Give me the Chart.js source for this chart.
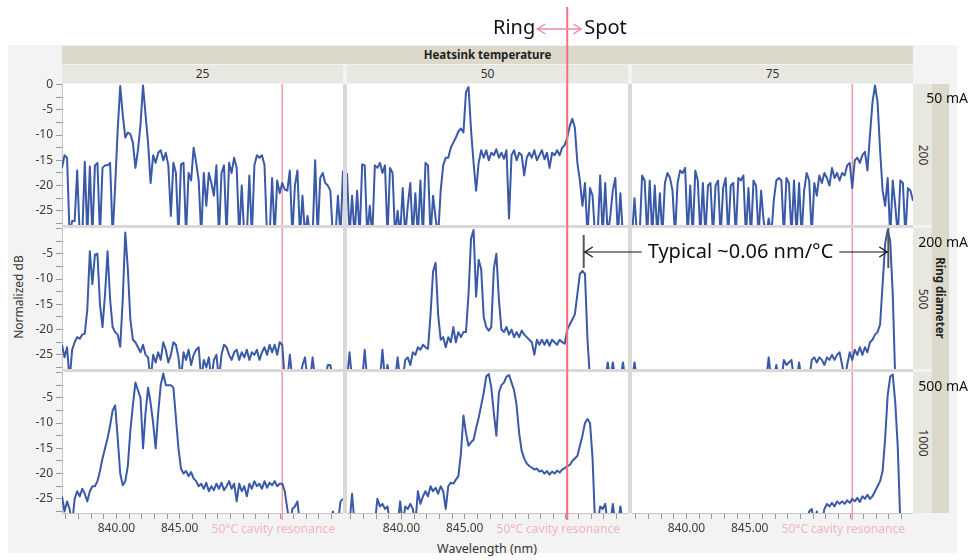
<!DOCTYPE html>
<html>
<head>
<meta charset="utf-8">
<script src="https://cdn.jsdelivr.net/npm/chart.js@4.4.1/dist/chart.umd.min.js"></script>
<style>
body { margin: 0; background: #fff; }
#wrap { position: relative; width: 969px; height: 560px; overflow: hidden; font-family: "Noto Sans", sans-serif; }
#wrap div { position: absolute; }
#bgpanel { left: 8px; top: 45px; width: 949px; height: 508px; background: #f3f3f3; }
#hdr { left: 62px; top: 46px; width: 851px; height: 18px; background: #dcd9cb; font-weight: bold; font-size: 11.5px; color: #222; text-align: center; line-height: 18px; }
.colhdr { top: 65px; height: 18px; width: 281px; background: #e8e7e0; font-size: 12px; color: #333; text-align: center; line-height: 18px; }
#grid { left: 62px; top: 84px; width: 851px; height: 429px; background: #d9d9d9; }
.rowlab { left: 913px; width: 19px; height: 141px; background: #e8e7e0; }
.rot { white-space: nowrap; transform: translate(-50%, -50%) rotate(90deg); }
#ringstrip { left: 932px; top: 84px; width: 17px; height: 429px; background: #dcd9cb; }
#ytitle { left: 18px; top: 297px; font-size: 12px; color: #333; white-space: nowrap; transform: translate(-50%, -50%) rotate(-90deg); }
#xtitle { left: 487px; top: 548px; font-size: 12.5px; color: #333; white-space: nowrap; transform: translate(-50%, -50%); }
canvas { position: absolute; }
</style>
</head>
<body>
<div id="wrap">
  <div id="bgpanel"></div>
  <div id="hdr">Heatsink temperature</div>
  <div id="grid"></div>
  <div id="ringstrip"><div class="rot" style="left:8px; top:214px; font-weight:bold; font-size:11.5px; color:#222;">Ring diameter</div></div>
  <div id="ytitle">Normalized dB</div>
  <div id="xtitle">Wavelength (nm)</div>
</div>
<script>
// wavelength grid (nm), shared by all panels
var wavelengths = [
  835.7, 835.9, 836.1, 836.3, 836.5, 836.7, 836.9, 837.1, 837.3, 837.5,
  837.7, 837.9, 838.1, 838.3, 838.5, 838.7, 838.9, 839.1, 839.3, 839.5,
  839.7, 839.9, 840.1, 840.3, 840.5, 840.7, 840.9, 841.1, 841.3, 841.5,
  841.7, 841.9, 842.1, 842.3, 842.5, 842.7, 842.9, 843.1, 843.3, 843.5,
  843.7, 843.9, 844.1, 844.3, 844.5, 844.7, 844.9, 845.1, 845.3, 845.5,
  845.7, 845.9, 846.1, 846.3, 846.5, 846.7, 846.9, 847.1, 847.3, 847.5,
  847.7, 847.9, 848.1, 848.3, 848.5, 848.7, 848.9, 849.1, 849.3, 849.5,
  849.7, 849.9, 850.1, 850.3, 850.5, 850.7, 850.9, 851.1, 851.3, 851.5,
  851.7, 851.9, 852.1, 852.3, 852.5, 852.7, 852.9, 853.1, 853.3, 853.5,
  853.7, 853.9, 854.1, 854.3, 854.5, 854.7, 854.9, 855.1, 855.3, 855.5,
  855.7, 855.9, 856.1, 856.3, 856.5, 856.7, 856.9, 857.1, 857.3, 857.5,
  857.7, 857.9
];

var temps = ['25', '50', '75'];
var diameters = ['200', '500', '1000'];
var currents = ['50 mA', '200 mA', '500 mA'];
var xLabels = [840, 845];
var cavityLine = 853.1;
var cavityText = '50°C cavity resonance';
var peak50 = 854.4, peak75 = 855.95;

// normalized dB, -30 = below the plotted floor
var s25_200 = [
  -16.5,-14,-14.5,-30,-27,-27,-17,-30,-30,-15.3,
  -30,-16.2,-30,-16,-15.5,-30,-16.5,-16,-16,-15.5,
  -30,-20,-9,-0.3,-6,-10.5,-9.5,-9.8,-11.5,-16.5,
  -13,-8,-0.2,-6,-11.5,-19.5,-14,-15.5,-13.5,-13,
  -15,-13.5,-16,-26,-15.5,-17.5,-30,-15.8,-15.5,-30,
  -17.5,-19,-12.5,-15.5,-19,-30,-17.5,-24,-17.5,-19.5,
  -22,-16,-30,-17.5,-16,-30,-15.5,-17.5,-14.5,-16.5,
  -30,-20,-30,-30,-18,-30,-16,-14,-14.5,-14,
  -16,-30,-30,-18.5,-30,-19,-21.5,-19.5,-20.8,-21,
  -17,-30,-20,-17,-30,-22,-30,-26,-30,-30,
  -15,-30,-18.5,-17.5,-19.5,-20,-21,-30,-30,-22,
  -30,-17
];
var s50_200 = [
  -17.5,-30,-22,-30,-21,-30,-15.8,-16,-30,-24,
  -30,-16,-16.5,-15.5,-17.5,-16,-30,-16.5,-17.5,-30,
  -25,-30,-20.5,-30,-24,-19.5,-30,-21.5,-30,-19,
  -30,-15.5,-16,-30,-22,-26.5,-30,-21,-16,-14.5,
  -14.5,-12.5,-11.5,-10.5,-9.3,-8.7,-9.5,-1.5,-0.5,-9,
  -15.5,-21,-15.5,-13,-14.5,-13,-15,-13.5,-14,-12.8,
  -14.5,-13.5,-14.7,-13,-26.5,-14,-13,-15,-13.5,-14,
  -18,-14.5,-13.5,-14.5,-13,-15,-14,-13,-14.8,-13.5,
  -16.5,-13.5,-14,-13,-14,-12.5,-12,-10.5,-8.2,-6.8,
  -8.5,-15.5,-19,-24,-19.5,-30,-20.5,-22,-30,-30,
  -18,-30,-19.5,-30,-26,-21,-18.5,-30,-21.5,-30,
  -28,-30
];
var s75_200 = [
  -30,-22.5,-30,-30,-18,-19,-30,-19,-30,-20,
  -30,-21.5,-30,-19.5,-17.5,-18.5,-21,-30,-19.5,-17,
  -17.5,-16.5,-30,-20,-30,-17,-19,-30,-19.5,-30,
  -20,-19.5,-30,-20,-19,-30,-20.5,-18.5,-30,-20,
  -19.5,-30,-18.5,-19,-18,-30,-20.5,-30,-19,-20,
  -30,-21,-27,-30,-26.5,-30,-23,-19,-18.5,-19,
  -30,-18.5,-19.5,-30,-19,-30,-19.5,-30,-21,-17.5,
  -19,-30,-19.5,-22,-18,-19.5,-17.5,-18.5,-20,-16.5,
  -18.5,-17.5,-19,-17.5,-18,-16,-15.5,-20.5,-15,-14.5,
  -15.5,-14,-13.3,-17,-10,-3.5,-0.2,-3.5,-13,-21,
  -24,-18.5,-30,-19,-24,-30,-19,-19.5,-30,-20.5,
  -21,-23
];
var s25_500 = [
  -23,-25.5,-23.5,-30,-24,-22.5,-21.5,-21.8,-21,-20.8,
  -16,-4.5,-11,-5.2,-5,-15,-19.5,-13,-4.5,-14,
  -19.5,-20.5,-21,-23.4,-14,-0.8,-8,-18,-22,-22.5,
  -23.5,-24.5,-23,-25,-25.5,-30,-25,-26.5,-24.5,-26,
  -22.5,-24,-26.5,-25,-22.5,-23,-25.5,-30,-24.5,-26,
  -24,-27,-25,-24,-23.5,-30,-26,-27.5,-25.5,-30,
  -26,-25,-30,-25,-23,-23.5,-25,-26,-24.5,-24,
  -26,-24.5,-25.5,-24,-26,-24.5,-25,-24,-26,-24.5,
  -23.5,-25,-23,-24.5,-23,-25,-22.5,-23,-30,-30,
  -25,-30,-30,-30,-30,-27,-25.5,-30,-30,-25.5,
  -30,-30,-30,-30,-30,-27,-27,-30,-30,-30,
  -30,-30
];
var s50_500 = [
  -30,-24.5,-30,-30,-30,-30,-30,-24,-30,-30,
  -30,-30,-30,-30,-24,-30,-27,-30,-30,-30,
  -25.5,-30,-30,-26,-25.5,-27,-24.5,-25,-23.5,-24,
  -23,-23.5,-23.8,-17,-8.5,-6.8,-17,-22,-21.5,-23.5,
  -21.5,-22.5,-19.5,-22.5,-20.5,-21.5,-20.5,-20.5,-13,-2,
  -0.3,-13.5,-6.2,-8,-17.5,-19.5,-20.2,-19.5,-8,-5,
  -14,-20,-20.5,-19.5,-21,-20,-21.5,-20.5,-21.5,-20.2,
  -21,-21.5,-22,-22.5,-25,-22,-23,-22,-23,-22,
  -23.2,-22,-22.5,-23,-22,-22.5,-22.8,-20,-19,-18,
  -17,-13,-9,-8.4,-9,-22,-30,-30,-30,-30,
  -30,-30,-30,-26.5,-30,-26.5,-30,-30,-30,-26.5,
  -30,-30
];
var s75_500 = [
  -30,-26.5,-30,-30,-30,-30,-30,-30,-30,-30,
  -30,-30,-30,-30,-30,-30,-30,-30,-30,-30,
  -30,-30,-30,-30,-30,-30,-30,-30,-30,-30,
  -30,-30,-30,-30,-30,-30,-30,-30,-30,-30,
  -30,-30,-30,-30,-30,-30,-30,-30,-30,-30,
  -30,-30,-30,-30,-25.5,-30,-30,-27,-30,-30,
  -26,-27,-26.5,-26,-30,-30,-26.5,-30,-30,-30,
  -30,-26,-25.5,-26.5,-25.5,-26,-27,-25.5,-26,-25,
  -26,-25,-24.5,-27,-30,-27,-24.5,-26,-24,-25,
  -23.5,-25,-23.5,-24.5,-22.5,-22,-21,-20.5,-19,-11,
  -3,-0.3,-2.5,-13,-30,-30,-30,-30,-30,-30,
  -30,-30
];
var s25_1000 = [
  -24.5,-27.5,-25.5,-27,-30,-25,-23.5,-24.5,-23,-24,
  -25.5,-23.5,-22.5,-22.5,-21.5,-19.5,-17,-15,-13,-10.5,
  -7.5,-6.5,-13,-20,-22.3,-21.5,-18.5,-11.5,-6.5,-2,
  -3.5,-5,-15,-8,-3,-6,-10,-15,-8,-2.5,
  -0.2,-2.5,-2.5,-2.5,-3,-9,-15,-19,-20,-19.5,
  -20.5,-19.7,-21,-21.5,-22.5,-22,-23,-21.8,-23.5,-22.5,
  -23.3,-22,-23,-21.8,-23.3,-22.5,-21.5,-23,-22,-25.5,
  -22,-23.5,-22.5,-24.5,-22,-23,-21.5,-22.5,-22,-23,
  -21.5,-22.8,-21.8,-22.3,-21.5,-22.5,-22,-22,-23.5,-27,
  -30,-27,-26.5,-25.5,-30,-30,-30,-30,-30,-30,
  -30,-30,-30,-30,-30,-30,-30,-27.5,-30,-30,
  -25.5,-25
];
var s50_1000 = [
  -30,-30,-24,-30,-30,-30,-30,-30,-30,-30,
  -30,-30,-25,-26.5,-26,-27,-26.5,-30,-30,-30,
  -30,-25.5,-30,-26.5,-27,-26,-27,-30,-23.5,-26,
  -24.5,-23.5,-24.5,-22.5,-23.5,-22.8,-24,-22.5,-23.5,-27,
  -22.5,-21.8,-22,-21.2,-20.5,-16,-8.5,-12,-14.5,-13.8,
  -13.3,-11,-9,-6.5,-4,-0.8,-0.3,-3,-8,-12.5,
  -4,-2.5,-2,-0.8,-0.5,-2,-3.5,-6.5,-12,-15.5,
  -17,-18,-18.5,-18.8,-19.2,-19,-19.6,-19.4,-20,-19.5,
  -20.2,-19.6,-20,-19.4,-19.8,-19.2,-18.9,-18.5,-18.3,-17.5,
  -17,-16.5,-14.5,-12.5,-10,-9.2,-10,-17,-30,-30,
  -26.5,-27,-26,-30,-30,-26,-30,-30,-26.5,-30,
  -30,-30
];
var s75_1000 = [
  -30,-30,-30,-30,-30,-30,-30,-30,-30,-30,
  -30,-30,-30,-30,-30,-30,-30,-30,-30,-30,
  -30,-30,-30,-30,-30,-30,-30,-30,-30,-30,
  -30,-30,-30,-30,-30,-30,-30,-30,-30,-30,
  -30,-30,-30,-30,-30,-30,-30,-30,-30,-30,
  -30,-30,-30,-30,-30,-30,-30,-30,-30,-30,
  -30,-30,-30,-30,-30,-30,-30,-30,-30,-30,
  -27.5,-27,-30,-27.5,-30,-30,-27,-26,-26.5,-25.8,
  -26.5,-25.5,-26,-25.5,-26,-25.3,-25.8,-25,-25.5,-24.8,
  -25.6,-24.5,-25,-24.2,-25,-24.5,-23.5,-22.5,-21.5,-19.5,
  -13,-4.5,-0.8,-0.4,-6,-15,-30,-30,-30,-30,
  -30,-30
];

var spectra = [
  [s25_200, s50_200, s75_200],
  [s25_500, s50_500, s75_500],
  [s25_1000, s50_1000, s75_1000]
];

var xMin = 835.7, xMax = 857.9, yMin = -27.8, yMax = 0.1;
var colLeft = [62, 347, 632], rowTop = [84, 228, 372];
var panelW = 281, panelH = 141, yAxisW = 54, xAxisH = 32, padTop = 8;
var lineColor = '#3a5aa7';

Chart.defaults.font.family = '"Noto Sans", sans-serif';
Chart.defaults.font.size = 12;
Chart.defaults.color = '#3c3c3c';

var wrap = document.getElementById('wrap');

// column and row headers
temps.forEach(function(t, c) {
  var d = document.createElement('div');
  d.className = 'colhdr';
  d.style.left = colLeft[c] + 'px';
  d.textContent = t;
  wrap.appendChild(d);
});
diameters.forEach(function(t, r) {
  var d = document.createElement('div');
  d.className = 'rowlab';
  d.style.top = rowTop[r] + 'px';
  d.innerHTML = '<div class="rot" style="left:10px; top:' + (panelH / 2) + 'px; font-size:12px; color:#333;">' + t + '</div>';
  wrap.appendChild(d);
});

var panelDecor = {
  id: 'panelDecor',
  beforeDraw: function(chart) {
    var a = chart.chartArea, ctx = chart.ctx;
    ctx.save();
    ctx.fillStyle = '#fff';
    ctx.fillRect(a.left, a.top, a.right - a.left, a.bottom - a.top);
    ctx.restore();
  },
  beforeDatasetsDraw: function(chart, args, opts) {
    var a = chart.chartArea, ctx = chart.ctx;
    var x = chart.scales.x.getPixelForValue(cavityLine);
    ctx.save();
    ctx.strokeStyle = '#f29cab';
    ctx.lineWidth = 1.5;
    ctx.beginPath();
    ctx.moveTo(x, a.top);
    ctx.lineTo(x, a.bottom + (opts.bottomRow ? 7 : 0));
    ctx.stroke();
    if (opts.bottomRow) {
      ctx.fillStyle = '#f4b3be';
      ctx.font = '12px "Noto Sans"';
      ctx.textAlign = 'center';
      ctx.textBaseline = 'middle';
      ctx.fillText(cavityText, x - 9, a.bottom + 17);
    }
    ctx.restore();
  }
};

function makePanel(r, c) {
  var showY = c === 0, showX = r === 2;
  var cv = document.createElement('canvas');
  var left = colLeft[c] - (showY ? yAxisW : 0);
  var top = rowTop[r] - padTop;
  var w = panelW + (showY ? yAxisW : 0);
  var h = padTop + panelH + (showX ? xAxisH : 0);
  cv.width = w; cv.height = h;
  cv.style.left = left + 'px'; cv.style.top = top + 'px';
  cv.style.width = w + 'px'; cv.style.height = h + 'px';
  wrap.appendChild(cv);

  var pts = spectra[r][c].map(function(v, i) { return {x: wavelengths[i], y: v}; });

  return new Chart(cv, {
    type: 'line',
    data: {
      datasets: [{
        data: pts,
        borderColor: lineColor,
        borderWidth: 2,
        borderJoinStyle: 'round',
        pointRadius: 0,
        tension: 0,
        fill: false
      }]
    },
    options: {
      responsive: false,
      animation: false,
      devicePixelRatio: 1,
      layout: { padding: { top: padTop, left: 0, right: 0, bottom: 0 } },
      plugins: {
        legend: { display: false },
        tooltip: { enabled: false },
        panelDecor: { bottomRow: showX }
      },
      scales: {
        x: {
          type: 'linear', min: xMin, max: xMax, display: showX,
          grid: { drawOnChartArea: false, tickLength: 6, color: '#999' },
          border: { display: true, color: '#c4c4c4' },
          ticks: {
            stepSize: 1, includeBounds: false, autoSkip: false, maxRotation: 0, minRotation: 0,
            padding: 2, color: '#3c3c3c',
            callback: function(v) { return xLabels.indexOf(v) >= 0 ? v.toFixed(2) : ''; }
          },
          afterFit: function(s) {
            if (!showX) return;
            s.height = xAxisH; s.paddingLeft = 0; s.paddingRight = 0;
          }
        },
        y: {
          type: 'linear', min: yMin, max: yMax, display: showY,
          grid: { drawOnChartArea: false, tickLength: 6, color: '#999' },
          border: { display: true, color: '#c4c4c4' },
          ticks: {
            stepSize: 2.5, includeBounds: false, autoSkip: false, padding: 3, color: '#3c3c3c',
            callback: function(v) {
              if (Math.abs(v % 5) > 1e-9) return '';
              if (v === 0 && r > 0) return '';
              return String(v);
            }
          },
          afterFit: function(s) {
            if (!showY) return;
            s.width = yAxisW; s.paddingTop = 0; s.paddingBottom = 0;
          }
        }
      }
    },
    plugins: [panelDecor]
  });
}

var charts = [];
for (var r = 0; r < 3; r++) {
  charts.push([]);
  for (var c = 0; c < 3; c++) charts[r].push(makePanel(r, c));
}

// overlay annotations
var ov = document.createElement('canvas');
ov.width = 969; ov.height = 560;
ov.style.left = '0px'; ov.style.top = '0px'; ov.style.zIndex = 10;
wrap.appendChild(ov);
var g = ov.getContext('2d');

function pageX(chart, v) { return parseFloat(chart.canvas.style.left) + chart.scales.x.getPixelForValue(v); }
function pageY(chart, v) { return parseFloat(chart.canvas.style.top) + chart.scales.y.getPixelForValue(v); }
function head(x, y, dir) {
  g.beginPath();
  g.moveTo(x - dir * 8, y - 5);
  g.lineTo(x, y);
  g.lineTo(x - dir * 8, y + 5);
  g.stroke();
}

// Ring <-> Spot marker
var xr = pageX(charts[0][1], cavityLine);
var yb = pageY(charts[2][1], yMin);
g.strokeStyle = '#f2737f';
g.lineWidth = 2;
g.beginPath(); g.moveTo(xr, 7); g.lineTo(xr, yb + 7); g.stroke();
g.lineWidth = 1.3;
g.strokeStyle = '#f08a98';
g.beginPath(); g.moveTo(xr - 30, 29); g.lineTo(xr + 14, 29); g.stroke();
head(xr - 30, 29, -1);
head(xr + 14, 29, 1);
g.fillStyle = '#111';
g.font = '20px "Noto Sans"';
g.textBaseline = 'middle';
g.textAlign = 'right';
g.fillText('Ring', xr - 32, 28);
g.textAlign = 'left';
g.fillText('Spot', xr + 17, 28);

// Typical shift annotation
var xa = pageX(charts[1][1], peak50);
var xb = pageX(charts[1][2], peak75);
var ya = 252;
g.strokeStyle = '#555';
g.lineWidth = 2;
g.beginPath(); g.moveTo(xa, 235); g.lineTo(xa, 268); g.stroke();
g.beginPath(); g.moveTo(xb, 228); g.lineTo(xb, 268); g.stroke();
g.strokeStyle = '#111';
g.lineWidth = 1.2;
var label = 'Typical ~0.06 nm/°C';
g.font = '20px "Noto Sans"';
var tw = g.measureText(label).width;
var tx = xa + 64;
g.beginPath(); g.moveTo(xa + 1, ya); g.lineTo(tx - 6, ya); g.stroke();
head(xa + 1, ya, -1);
g.beginPath(); g.moveTo(tx + tw + 6, ya); g.lineTo(xb - 1, ya); g.stroke();
head(xb - 1, ya, 1);
g.textAlign = 'left';
g.fillText(label, tx, ya);

// drive current labels
g.font = '14px "Noto Sans"';
g.textAlign = 'right';
currents.forEach(function(t, r) { g.fillText(t, 968, rowTop[r] + 15); });
</script>
</body>
</html>
